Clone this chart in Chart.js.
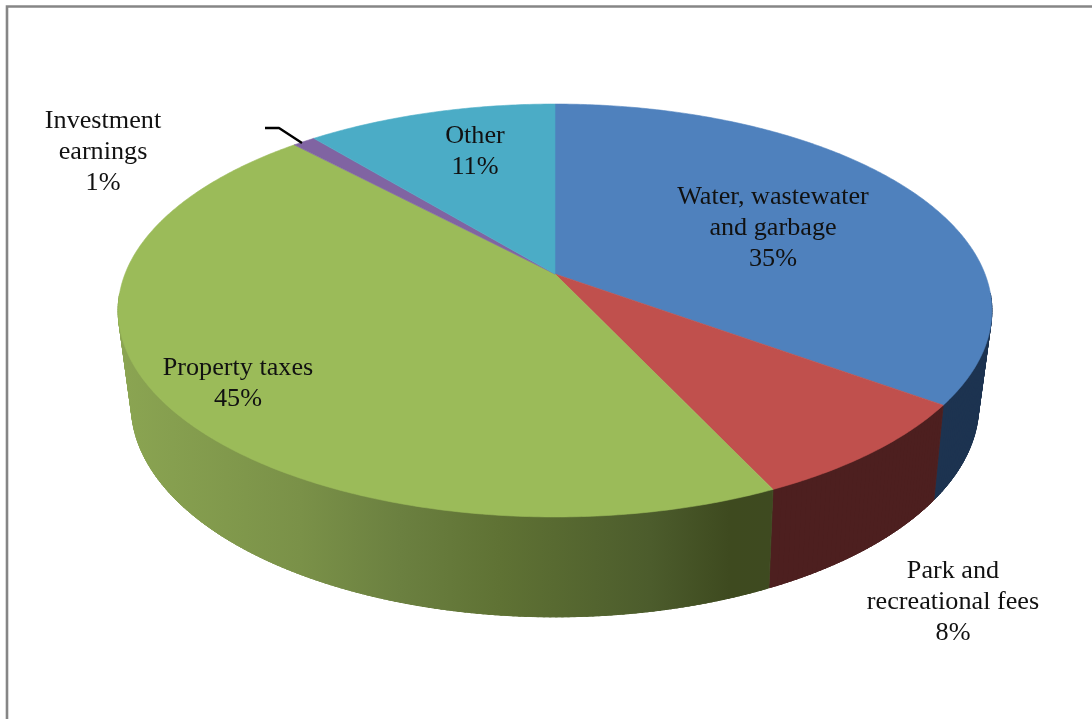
<!DOCTYPE html>
<html><head><meta charset="utf-8">
<style>html,body{margin:0;padding:0;background:#fff;overflow:hidden}canvas{display:block}</style>
<script src="https://cdn.jsdelivr.net/npm/chart.js@4/dist/chart.umd.js"></script>
</head><body><canvas id="c" width="1092" height="719" style="width:1092px;height:719px"></canvas>
<script>
const categories = ['Water, wastewater and garbage','Park and recreational fees','Property taxes','Investment earnings','Other'];
const shares = [35, 8, 45, 1, 11];
const topColors = ['#4f81bd','#c0504d','#9bbb59','#8064a2','#4bacc6'];
const wallColors = ['#1d3350','#4d1f1f',null,'#4c3a60','#2a6f82'];
const greenWallStops = [[118,'#8ba552'],[300,'#7a9148'],[400,'#6b8040'],[500,'#5f7234'],[650,'#4c5c2c'],[730,'#3e4a1f'],[772,'#3e4a20']];
const labelLines = [['Water, wastewater','and garbage','35%'],['Park and','recreational fees','8%'],['Property taxes','45%'],['Investment','earnings','1%'],['Other','11%']];
const labelAnchors = [[773,197.5],[953,571.5],[238,368.5],[103,121.5],[475,136.5]];
const LINE_H = 30.6;
const topDisk = {cx:555, cy:274, a:430, b:200, k:0.1768};
const baseDisk = {cx:555, cy:365, a:416, b:204, k:0.19};

function project(d, ang){            // ang = Chart.js arc angle (radians, -PI/2 is 12 o'clock)
  const u = Math.cos(ang), v = Math.sin(ang), w = 1 - d.k*v;
  return [d.cx + d.a*u/w, d.cy + d.b*v/w];
}
// Slices: Chart.js computes the angles, the element draws them on the tilted disk.
Chart.ArcElement.prototype.draw = function(ctx){
  const p = this.getProps(['startAngle','endAngle']);
  ctx.save();
  ctx.beginPath();
  ctx.moveTo(topDisk.cx, topDisk.cy);
  const n = Math.max(2, Math.ceil((p.endAngle-p.startAngle)/0.01));
  for(let i=0;i<=n;i++){
    const q = project(topDisk, p.startAngle+(p.endAngle-p.startAngle)*i/n);
    ctx.lineTo(q[0],q[1]);
  }
  ctx.closePath();
  ctx.fillStyle = this.options.backgroundColor;
  ctx.strokeStyle = this.options.backgroundColor;
  ctx.lineWidth = 0.6;
  ctx.fill(); ctx.stroke();
  ctx.restore();
};
const depthWalls = {
  id:'depthWalls',
  beforeDatasetsDraw(chart){
    const ctx = chart.ctx, arcs = chart.getDatasetMeta(0).data, quads = [];
    const green = ctx.createLinearGradient(118,0,772,0);
    greenWallStops.forEach(s=>green.addColorStop((s[0]-118)/(772-118), s[1]));
    arcs.forEach((el,i)=>{
      const p = el.getProps(['startAngle','endAngle']);
      const fill = wallColors[i] || green;
      const span = p.endAngle-p.startAngle;
      const n = Math.max(2, Math.ceil(span/0.012));
      const step = span/n;
      for(let j=0;j<n;j++){
        // neighbouring quads overlap so no anti-aliased seams show through
        const a0 = Math.max(p.startAngle, p.startAngle+step*j-step*0.7);
        const a1 = Math.min(p.endAngle, p.startAngle+step*(j+1)+step*0.7);
        const s = Math.sin(p.startAngle+step*(j+0.5));
        if(s > 0.1) quads.push({s, fill, a0, a1});   // back of the rim is hidden by the top face
      }
    });
    quads.sort((x,y)=>x.s-y.s).forEach(q=>{
      const A=project(topDisk,q.a0),B=project(topDisk,q.a1),C=project(baseDisk,q.a1),D=project(baseDisk,q.a0);
      ctx.beginPath();ctx.moveTo(A[0],A[1]);ctx.lineTo(B[0],B[1]);ctx.lineTo(C[0],C[1]);ctx.lineTo(D[0],D[1]);ctx.closePath();
      ctx.fillStyle=q.fill;ctx.strokeStyle=q.fill;ctx.lineWidth=0.8;ctx.fill();ctx.stroke();
    });
  }
};
const frameAndLabels = {
  id:'frameAndLabels',
  beforeDraw(chart){
    const ctx = chart.ctx;
    ctx.save();
    ctx.fillStyle='#fff';ctx.fillRect(0,0,1092,719);
    ctx.strokeStyle='#868686';ctx.lineWidth=2.6;
    ctx.beginPath();ctx.moveTo(7,719);ctx.lineTo(7,6.5);ctx.lineTo(1092,6.5);ctx.stroke();
    ctx.restore();
  },
  afterDatasetsDraw(chart){
    const ctx = chart.ctx;
    ctx.save();
    ctx.strokeStyle='#000';ctx.lineWidth=2.4;ctx.lineJoin='round';
    ctx.beginPath();ctx.moveTo(265,128);ctx.lineTo(279,128);ctx.lineTo(302,143);ctx.stroke();
    ctx.fillStyle='#111';ctx.textAlign='center';ctx.textBaseline='middle';
    ctx.font='26.2px "Liberation Serif"';
    labelLines.forEach((lines,i)=>lines.forEach((t,j)=>
      ctx.fillText(t,labelAnchors[i][0],labelAnchors[i][1]+j*LINE_H)));
    ctx.restore();
  }
};
new Chart(document.getElementById('c'),{
  type:'pie',
  data:{labels:categories,datasets:[{data:shares,backgroundColor:topColors,borderWidth:0}]},
  options:{responsive:false,animation:false,rotation:0,circumference:360,
    plugins:{legend:{display:false},tooltip:{enabled:false},title:{display:false}}},
  plugins:[frameAndLabels,depthWalls]
});
</script></body></html>
